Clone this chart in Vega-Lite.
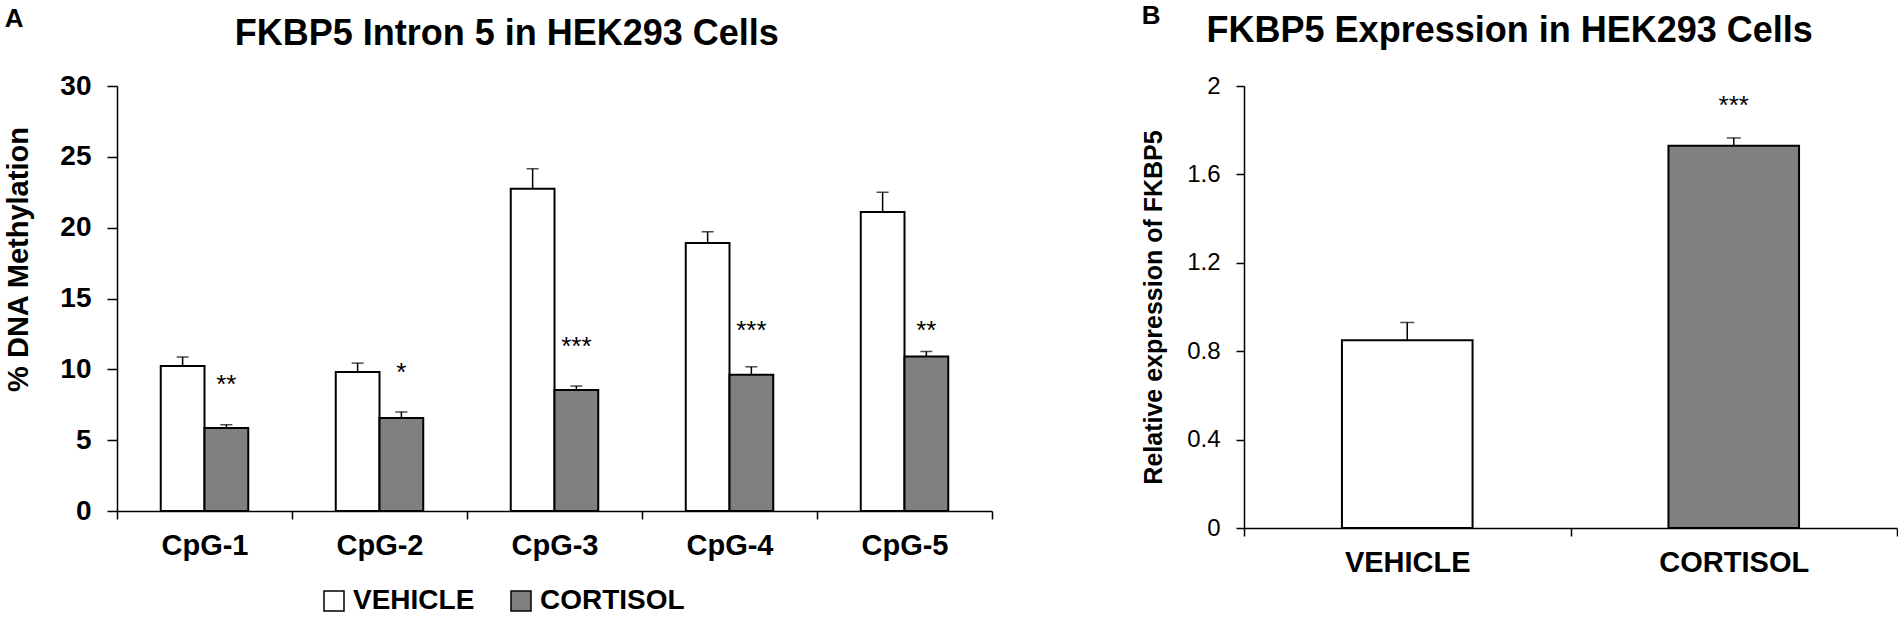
{
  "$schema": "https://vega.github.io/schema/vega-lite/v6.json",
  "padding": {"left": 4, "top": 3, "right": 0, "bottom": 0},
  "background": "white",
  "config": {
    "font": "Liberation Sans",
    "view": {"stroke": null},
    "axis": {"domainColor": "black", "tickColor": "black", "labelColor": "black", "titleColor": "black", "grid": false, "domainWidth": 1.5, "tickWidth": 1.5},
    "title": {"color": "black"}
  },
  "spacing": 148,
  "hconcat": [
    {
      "title": {"text": "A", "anchor": "start", "frame": "bounds", "fontSize": 26, "fontWeight": "bold", "offset": 0, "dy": 16},
      "vconcat": [
        {
          "width": 875,
          "height": 425,
          "title": {"text": "FKBP5 Intron 5 in HEK293 Cells", "fontSize": 36, "fontWeight": "bold", "frame": "bounds", "anchor": "middle", "offset": 19, "dx": 8},
          "data": {"values": [
            {"site": "CpG-1", "cond": "VEHICLE", "value": 10.23, "hi": 10.87, "star": "", "starY": null},
            {"site": "CpG-1", "cond": "CORTISOL", "value": 5.86, "hi": 6.09, "star": "**", "starY": 8.9},
            {"site": "CpG-2", "cond": "VEHICLE", "value": 9.81, "hi": 10.44, "star": "", "starY": null},
            {"site": "CpG-2", "cond": "CORTISOL", "value": 6.56, "hi": 6.99, "star": "*", "starY": 9.75},
            {"site": "CpG-3", "cond": "VEHICLE", "value": 22.75, "hi": 24.16, "star": "", "starY": null},
            {"site": "CpG-3", "cond": "CORTISOL", "value": 8.54, "hi": 8.82, "star": "***", "starY": 11.6},
            {"site": "CpG-4", "cond": "VEHICLE", "value": 18.91, "hi": 19.71, "star": "", "starY": null},
            {"site": "CpG-4", "cond": "CORTISOL", "value": 9.62, "hi": 10.18, "star": "***", "starY": 12.7},
            {"site": "CpG-5", "cond": "VEHICLE", "value": 21.1, "hi": 22.5, "star": "", "starY": null},
            {"site": "CpG-5", "cond": "CORTISOL", "value": 10.9, "hi": 11.26, "star": "**", "starY": 12.7}
          ]},
          "encoding": {
            "x": {"field": "site", "type": "nominal", "sort": null, "scale": {"paddingInner": 0, "paddingOuter": 0},
                  "axis": {"title": null, "labelAngle": 0, "labelFontSize": 29, "labelFontWeight": "bold", "tickBand": "extent", "tickSize": 8, "labelPadding": 12}},
            "xOffset": {"field": "cond", "type": "nominal", "scale": {"domain": ["VEHICLE", "CORTISOL"], "paddingInner": 0, "paddingOuter": 1.08}}
          },
          "layer": [
            {
              "mark": {"type": "bar", "stroke": "black", "strokeWidth": 2},
              "encoding": {
                "y": {"field": "value", "type": "quantitative", "scale": {"domain": [0, 30]},
                      "axis": {"title": "% DNA Methylation", "values": [0, 5, 10, 15, 20, 25, 30], "labelFontSize": 28, "labelFontWeight": "bold", "titleFontSize": 29, "titleFontWeight": "bold", "tickSize": 10, "labelPadding": 16, "titlePadding": 26, "titleY": 173}},
                "color": {"field": "cond", "type": "nominal", "scale": {"domain": ["VEHICLE", "CORTISOL"], "range": ["white", "#808080"]},
                          "legend": {"orient": "none", "legendX": 203, "legendY": 501, "direction": "horizontal", "title": null, "labelFontSize": 28, "labelFontWeight": "bold", "labelColor": "black", "symbolType": "square", "symbolSize": 400, "symbolStrokeColor": "black", "symbolStrokeWidth": 1.5, "columnPadding": 32, "labelOffset": 5}}
              }
            },
            {
              "mark": {"type": "rule", "color": "black", "strokeWidth": 1.5},
              "encoding": {"y": {"field": "value", "type": "quantitative"}, "y2": {"field": "hi"}}
            },
            {
              "mark": {"type": "tick", "color": "black", "thickness": 1.5, "size": 12},
              "encoding": {"y": {"field": "hi", "type": "quantitative"}}
            },
            {
              "transform": [{"filter": "datum.star != ''"}],
              "mark": {"type": "text", "fontSize": 26, "baseline": "middle", "color": "black"},
              "encoding": {"y": {"field": "starY", "type": "quantitative"}, "text": {"field": "star"}}
            }
          ]
        }
      ]
    },
    {
      "title": {"text": "B", "anchor": "start", "frame": "bounds", "fontSize": 26, "fontWeight": "bold", "offset": 0, "dy": 16},
      "vconcat": [
        {
          "width": 653,
          "height": 442,
          "title": {"text": "FKBP5 Expression in HEK293 Cells", "fontSize": 36, "fontWeight": "bold", "frame": "bounds", "anchor": "middle", "offset": 24, "dx": -10},
          "data": {"values": [
            {"cond": "VEHICLE", "value": 0.85, "hi": 0.93, "star": "", "starY": null},
            {"cond": "CORTISOL", "value": 1.73, "hi": 1.765, "star": "***", "starY": 1.91}
          ]},
          "encoding": {
            "x": {"field": "cond", "type": "nominal", "sort": null, "scale": {"paddingInner": 0, "paddingOuter": 0},
                  "axis": {"title": null, "labelAngle": 0, "labelFontSize": 29, "labelFontWeight": "bold", "tickBand": "extent", "tickSize": 8, "labelPadding": 12}}
          },
          "layer": [
            {
              "mark": {"type": "bar", "stroke": "black", "strokeWidth": 2, "width": {"band": 0.4}},
              "encoding": {
                "y": {"field": "value", "type": "quantitative", "scale": {"domain": [0, 2]},
                      "axis": {"title": "Relative expression of FKBP5", "values": [0, 0.4, 0.8, 1.2, 1.6, 2], "format": "~g", "labelFontSize": 24, "labelFontWeight": "normal", "titleFontSize": 25, "titleFontWeight": "bold", "tickSize": 8, "labelPadding": 16, "titlePadding": 20}},
                "color": {"field": "cond", "type": "nominal", "scale": {"domain": ["VEHICLE", "CORTISOL"], "range": ["white", "#808080"]}, "legend": null}
              }
            },
            {
              "mark": {"type": "rule", "color": "black", "strokeWidth": 1.5},
              "encoding": {"y": {"field": "value", "type": "quantitative"}, "y2": {"field": "hi"}}
            },
            {
              "mark": {"type": "tick", "color": "black", "thickness": 1.5, "size": 14},
              "encoding": {"y": {"field": "hi", "type": "quantitative"}}
            },
            {
              "transform": [{"filter": "datum.star != ''"}],
              "mark": {"type": "text", "fontSize": 26, "baseline": "middle", "color": "black"},
              "encoding": {"y": {"field": "starY", "type": "quantitative"}, "text": {"field": "star"}}
            }
          ]
        }
      ]
    }
  ],
  "resolve": {"scale": {"color": "independent"}}
}
